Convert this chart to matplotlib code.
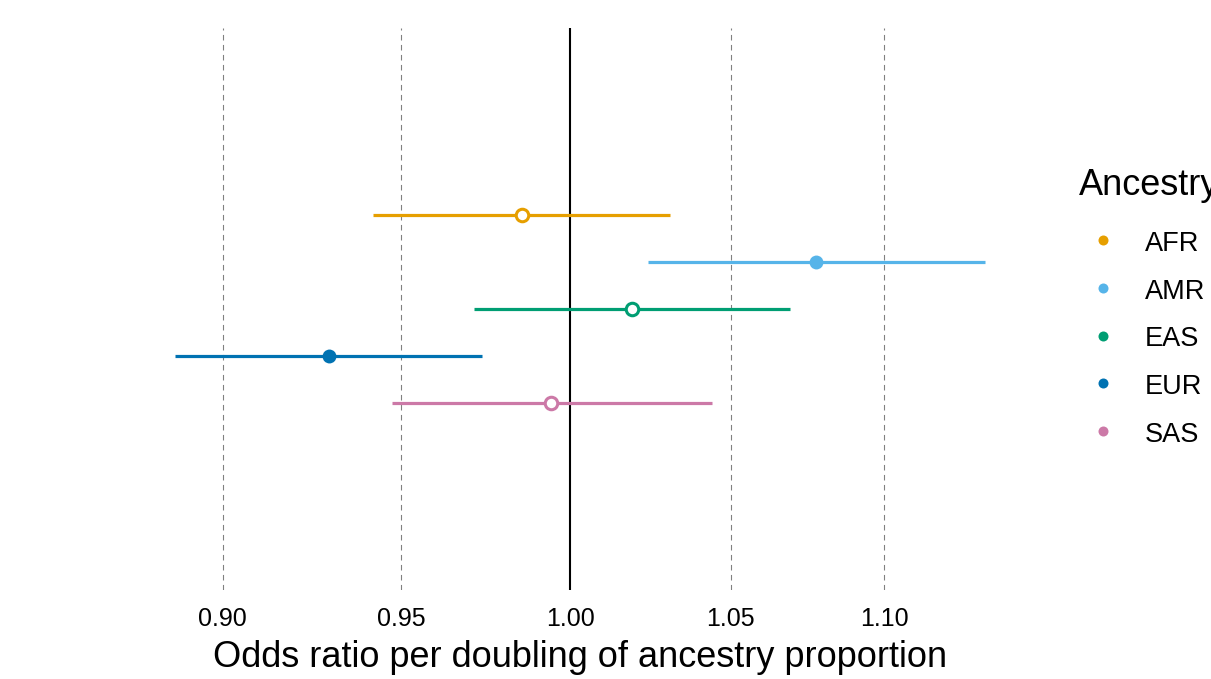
import matplotlib
matplotlib.use("Agg")
import matplotlib.pyplot as plt
from matplotlib.lines import Line2D
import numpy as np

plt.rcParams['font.family'] = ['Liberation Sans', 'DejaVu Sans']

ancestry = ["AFR", "AMR", "EAS", "EUR", "SAS"]
odds_ratio = [0.9855, 1.0776, 1.0190, 0.9294, 0.9942]
ci_low = [0.9419, 1.0240, 0.9713, 0.8872, 0.9474]
ci_high = [1.0308, 1.1340, 1.0691, 0.9736, 1.0441]
significant = [False, True, False, True, False]
colors = ["#E69F00", "#56B4E9", "#009E73", "#0072B2", "#CC79A7"]
ypos = [2, 1, 0, -1, -2]
grid_ticks = [0.90, 0.95, 1.05, 1.10]
tick_values = [0.90, 0.95, 1.00, 1.05, 1.10]
tick_labels = ["0.90", "0.95", "1.00", "1.05", "1.10"]

W, H = 1211, 679
fig = plt.figure(figsize=(W / 100, H / 100), dpi=100)
left, right, top, bottom = 135, 1025, 28, 590
ax = fig.add_axes([left / W, 1 - bottom / H, (right - left) / W, (bottom - top) / H])

ax.set_xscale('log')
for g in grid_ticks:
    ax.axvline(g, color='#808080', lw=0.8, dashes=[5, 4], zorder=0)
ax.axvline(1.0, color='black', lw=1.5, zorder=1)

for i in range(len(ancestry)):
    ax.plot([ci_low[i], ci_high[i]], [ypos[i], ypos[i]], color=colors[i], lw=2.3,
            solid_capstyle='butt', zorder=2)
    if significant[i]:
        ax.plot(odds_ratio[i], ypos[i], 'o', color=colors[i], ms=10, mec=colors[i],
                mew=0, zorder=3)
    else:
        ax.plot(odds_ratio[i], ypos[i], 'o', mfc='white', mec=colors[i], ms=9,
                mew=2.2, zorder=3)

lo = np.log(min(ci_low)); hi = np.log(max(ci_high))
span = hi - lo
ax.set_xlim(np.exp(lo - 0.05 * span), np.exp(hi + 0.05 * span))
ax.set_ylim(-5.98, 5.98)

ax.set_xticks(tick_values)
ax.set_xticklabels(tick_labels)
ax.xaxis.set_minor_locator(matplotlib.ticker.NullLocator())
ax.tick_params(axis='x', length=0, pad=12.5, labelsize=18, colors='black')
ax.set_yticks([])
for s in ax.spines.values():
    s.set_visible(False)
ax.set_xlabel("Odds ratio per doubling of ancestry proportion", fontsize=26, labelpad=6.5)

# legend (manual)
fig.text(1079 / W, 1 - 195 / H, "Ancestry", fontsize=26, va='baseline', ha='left')
for i, (name, c) in enumerate(zip(ancestry, colors)):
    yc = 240 + 47.75 * i
    fig.add_artist(Line2D([1103 / W], [1 - yc / H], transform=fig.transFigure,
                          marker='o', linestyle='', color=c, ms=7.2, mew=0))
    fig.text(1145 / W, 1 - (yc + 11) / H, name, fontsize=19.5, va='baseline', ha='left')

fig.savefig("out.png", dpi=100)
